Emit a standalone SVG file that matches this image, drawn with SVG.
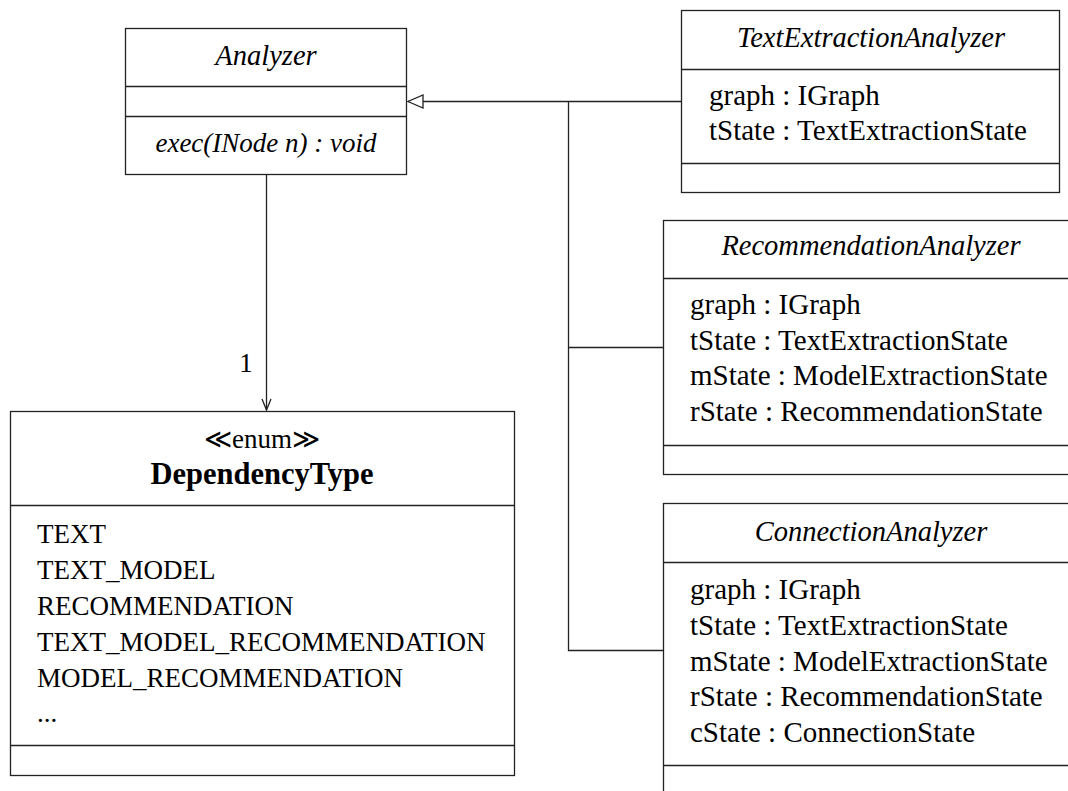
<svg xmlns="http://www.w3.org/2000/svg" width="1068" height="791" viewBox="0 0 1068 791">
<defs>
<style>
text{font-family:"Liberation Serif","DejaVu Serif",serif;font-size:29px;fill:#000}
.it{font-style:italic;font-size:28.5px}
.op{font-style:italic;font-size:27px}
.b{font-weight:bold;font-size:30.5px}
.caps{font-size:27px}
.c{text-anchor:middle}
.box{fill:#fff;stroke:#222;stroke-width:1.3}
.ln{stroke:#222;stroke-width:1.3;fill:none}
</style>
<marker id="tri" markerWidth="18" markerHeight="16" refX="16" refY="7" orient="auto" markerUnits="userSpaceOnUse">
<path d="M16,7 L1,0.5 L1,13.5 Z" fill="#fff" stroke="#222" stroke-width="1.3"/>
</marker>
<marker id="open" markerWidth="14" markerHeight="12" refX="12" refY="6" orient="auto" markerUnits="userSpaceOnUse">
<path d="M1,1.5 L12,6 L1,10.5" fill="none" stroke="#222" stroke-width="1.3"/>
</marker>
</defs>
<g id="connectors">
<path class="ln" d="M681.5,101.5 H408" marker-end="url(#tri)"/>
<path class="ln" d="M568.5,101.5 V650.5 H663.5"/>
<path class="ln" d="M568.5,347.5 H663.5"/>
<path class="ln" d="M266.5,174 V410" marker-end="url(#open)"/>
<text class="caps c" x="246" y="372">1</text>
</g>
<g id="Analyzer">
<rect class="box" x="125.5" y="28.5" width="281" height="146"/>
<path class="ln" d="M125.5,86.5 H406.5 M125.5,116.5 H406.5"/>
<text class="it c" x="266" y="65">Analyzer</text>
<text class="op c" x="266" y="152">exec(INode n) : void</text>
</g>
<g id="DependencyType">
<rect class="box" x="10.5" y="411.5" width="504" height="364"/>
<path class="ln" d="M10.5,505.5 H514.5 M10.5,745.5 H514.5"/>
<text class="caps c" x="262" y="448">≪enum≫</text>
<text class="b c" x="262" y="484">DependencyType</text>
<text class="caps" x="37" y="543">TEXT</text>
<text class="caps" x="37" y="579">TEXT_MODEL</text>
<text class="caps" x="37" y="615">RECOMMENDATION</text>
<text class="caps" x="37" y="651">TEXT_MODEL_RECOMMENDATION</text>
<text class="caps" x="37" y="687">MODEL_RECOMMENDATION</text>
<text class="caps" x="37" y="722">...</text>
</g>
<g id="TextExtractionAnalyzer">
<rect class="box" x="681.5" y="10.5" width="378" height="182"/>
<path class="ln" d="M681.5,69.5 H1059.5 M681.5,163.5 H1059.5"/>
<text class="it c" x="871" y="47">TextExtractionAnalyzer</text>
<text x="709" y="105">graph : IGraph</text>
<text x="709" y="140">tState : TextExtractionState</text>
</g>
<g id="RecommendationAnalyzer">
<rect class="box" x="663.5" y="220.5" width="415" height="254"/>
<path class="ln" d="M663.5,278.5 H1078.5 M663.5,445.5 H1078.5"/>
<text class="it c" x="871" y="255">RecommendationAnalyzer</text>
<text x="690" y="314">graph : IGraph</text>
<text x="690" y="349.5">tState : TextExtractionState</text>
<text x="690" y="385">mState : ModelExtractionState</text>
<text x="690" y="420.5">rState : RecommendationState</text>
</g>
<g id="ConnectionAnalyzer">
<rect class="box" x="663.5" y="503.5" width="415" height="320"/>
<path class="ln" d="M663.5,562.5 H1078.5 M663.5,765.5 H1078.5"/>
<text class="it c" x="871" y="541">ConnectionAnalyzer</text>
<text x="690" y="599">graph : IGraph</text>
<text x="690" y="635">tState : TextExtractionState</text>
<text x="690" y="670.5">mState : ModelExtractionState</text>
<text x="690" y="706">rState : RecommendationState</text>
<text x="690" y="742">cState : ConnectionState</text>
</g>
</svg>
